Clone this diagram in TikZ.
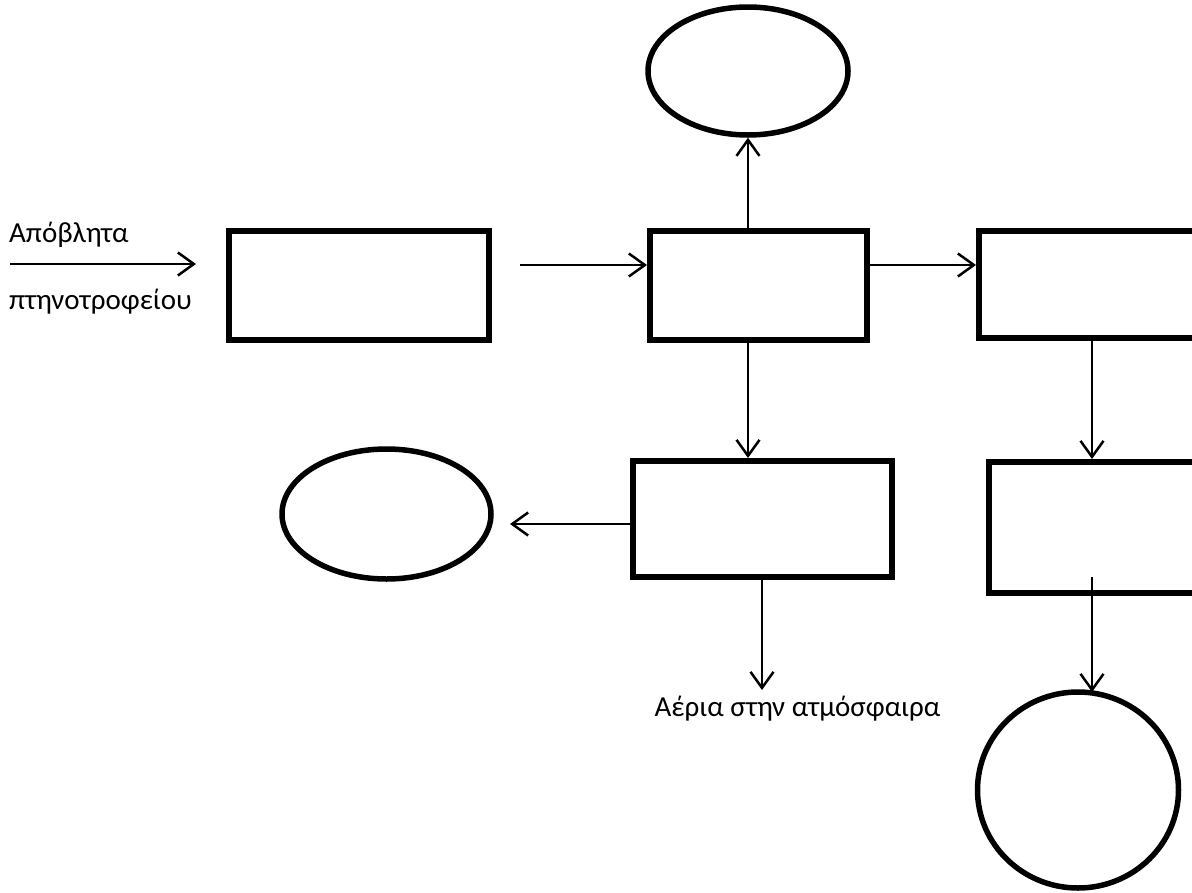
\documentclass[tikz,border=0pt]{standalone}
\usepackage{fontspec}
\setmainfont{Carlito}
\usetikzlibrary{arrows.meta,shapes.geometric}
\begin{document}
\begin{tikzpicture}[x=1pt,y=-1pt,
  boxn/.style={draw,line width=6pt,rectangle,inner sep=0pt},
  ovaln/.style={draw,line width=5.5pt,ellipse,inner sep=0pt},
  flow/.style={line width=2.5pt,-{Straight Barb[length=16pt,width=23pt,line width=2.5pt]}},
  lbl/.style={font=\fontsize{29}{33}\selectfont,inner sep=0pt}]
\useasboundingbox (0,0) rectangle (1192,892);
\clip (0,0) rectangle (1192,892);
\fill[white] (0,0) rectangle (1192,892);
% boxes
\node[boxn,minimum width=260pt,minimum height=109pt] (b1) at (359,285.5) {};
\node[boxn,minimum width=217pt,minimum height=109pt] (b2) at (758.5,285.5) {};
\node[boxn,minimum width=222pt,minimum height=107pt] (b3) at (1090,284.5) {};
\node[boxn,minimum width=259pt,minimum height=116pt] (b4) at (762.5,519) {};
\node[boxn,minimum width=212pt,minimum height=131pt] (b5) at (1095,527.5) {};
% ovals
\node[ovaln,minimum width=200pt,minimum height=128pt] (top) at (748,71) {};
\node[ovaln,minimum width=209pt,minimum height=130pt] (left) at (386.5,514) {};
\node[ovaln,minimum width=201pt,minimum height=196pt] (circ) at (1078,790) {};
% labels
\node[lbl,anchor=base west] (t1) at (9,242) {Απόβλητα};
\node[lbl,anchor=base west] (t2) at (9,309) {πτηνοτροφείου};
\node[lbl,anchor=base] (t3) at (797.5,716) {Αέρια στην ατμόσφαιρα};
% coordinates
\coordinate (inS) at (10,264);
\coordinate (inE) at (196,264);
\coordinate (a2s) at (520,265);
\coordinate (lc) at (510,524);
\coordinate (gas) at (762,690);
\coordinate (colR) at (1092,0);
\coordinate (b5s) at (1092,577);
\coordinate (ce) at (1092,692);
% connectors
\draw[flow] (inS) -- (inE);
\draw[flow] (a2s) -- (a2s -| b2.west);
\draw[flow] (b2.east |- a2s) -- (b3.west |- a2s);
\draw[flow] (b2.north -| top.south) -- (top.south);
\draw[flow] (b2.south -| top.south) -- (b4.north -| top.south);
\draw[flow] (b4.west |- lc) -- (lc);
\draw[flow] (b4.south -| gas) -- (gas);
\draw[flow] (b3.south -| colR) -- (b5.north -| colR);
\draw[flow] (b5s) -- (ce);
\end{tikzpicture}
\end{document}
